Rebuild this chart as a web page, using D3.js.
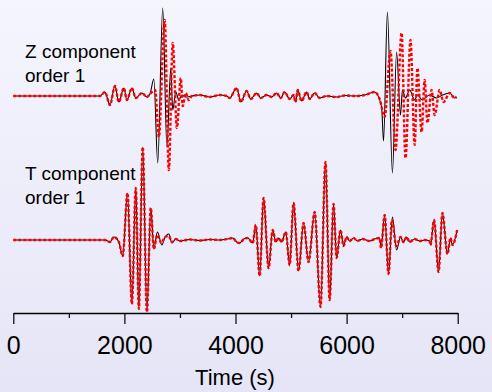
<!DOCTYPE html>
<html>
<head>
<meta charset="utf-8">
<script src="https://cdn.jsdelivr.net/npm/d3@7"></script>
<style>
  body { margin: 0; }
  text { font-family: "Liberation Sans", Arial, Helvetica, sans-serif; }
</style>
</head>
<body>
<script>
// time in seconds, amplitude in arbitrary units
const zCommonA = [[0,0],[1560,0],[1650,0.4],[1740,-0.9],[1830,1.0],[1900,-0.6],[1990,0.8],[2045,-0.4],[2135,0.8],[2205,-0.2],[2315,0.3],[2405,-0.1],[2460,0.2]];
const zBlackB = [[2530,1.7],[2600,-6.7],[2690,8.8],[2765,-5.1],[2835,2.8],[2870,-1.4],[2925,0.4],[2980,-0.4],[3035,0.1],[3105,-0.1],[3215,0]];
const zRedB = [[2555,0.6],[2620,-4.1],[2725,7.6],[2800,-7.4],[2870,5.3],[2945,-3.2],[3015,1.8],[3050,-1.0],[3105,0.3],[3160,-0.4],[3215,0]];
const zCommonC = [[3355,0.1],[3535,-0.1],[3715,0.1],[3840,0],[3895,-0.2],[4020,0.8],[4095,-0.6],[4200,0.5],[4275,-0.3],[4380,0.3],[4455,-0.2],[4560,0.1],[4650,-0.1],[4740,0.3],[4815,-0.2],[4885,0.4],[4975,-0.3],[5045,0.1],[5080,-0.6],[5120,0.6],[5190,-0.5],[5280,0.4],[5335,-0.3],[5425,0.3],[5515,-0.2],[5640,0],[5820,-0.1],[5965,0.05],[6145,0],[6325,0.1],[6505,0.4]];
const zBlackD = [[6630,-1.1],[6665,-4.5],[6735,8.4],[6825,-7.7],[6900,4.4],[6970,-1.9],[7005,0.6],[7060,-0.2],[7135,0.6],[7225,-0.4],[7275,0.1],[7365,-0.4],[7490,0.1],[7620,-0.2],[7725,0.1]];
const zRedD = [[6595,-0.3],[6685,-2.1],[6790,4.5],[6880,-5.4],[6990,6.3],[7060,-6.2],[7150,5.6],[7225,-4.9],[7275,2.8],[7350,-3.6],[7405,1.6],[7455,-2.7],[7530,0.6],[7585,-1.9],[7675,0.6],[7745,-0.6]];
const zCommonE = [[7855,0.3],[7945,-0.2],[7980,-0.1]];

const tCommonA = [[0,0],[1650,0],[1740,-0.2],[1810,0.3],[1900,-0.2],[1970,-1.6],[2055,4.7],[2135,-6.4],[2205,5.2],[2260,-6.9],[2330,9.3],[2405,-7.2],[2475,3.2],[2530,-0.9]];
const tBlackB = [[2595,0.8],[2675,-0.5],[2725,0.2],[2800,0.6],[2855,-0.3]];
const tRedB = [[2590,0.5],[2665,-0.3],[2730,0.3],[2800,0.4],[2855,-0.2]];
const tCommonC = [[2925,0.1],[3000,-0.1],[3175,0.05],[3355,-0.05],[3535,0.05],[3715,0],[3860,0.1],[3950,0.2],[4020,-0.2],[4075,-0.3],[4150,0.1],[4220,0.2],[4310,-0.3],[4365,1.5],[4435,-3.6],[4505,4.2],[4595,-2.8],[4670,1.0],[4725,-0.2],[4775,0.2],[4830,-0.2],[4905,0.8],[4975,-2.5],[5045,3.7],[5135,-3.1],[5225,1.7],[5315,-2.2],[5425,2.8],[5530,-6.7],[5620,7.8],[5695,-6.0],[5765,3.6],[5820,-1.8],[5890,1.0],[5945,-0.6],[6000,0.3],[6055,-0.1],[6125,0.2],[6195,-0.1],[6285,0.1],[6415,-0.1],[6505,0.1],[6595,0.2],[6620,-0.8],[6685,2.5],[6755,-3.4]];
const tBlackD = [[6825,2.3],[6900,-1.0]];
const tRedD = [[6815,2.0],[6895,-0.6]];
const tCommonE = [[6970,0.3],[7025,-0.2],[7080,0.3],[7135,-0.2],[7225,0.1],[7315,-0.1],[7405,0],[7495,-0.1],[7510,-0.5],[7575,2.0],[7655,-3.2],[7725,2.7],[7815,-1.4],[7870,0.2],[7905,-0.5],[7990,1.0]];

const majorTicks = [0, 2000, 4000, 6000, 8000];
const minorTicks = [1000, 3000, 5000, 7000];

const zBlack = zCommonA.concat(zBlackB, zCommonC, zBlackD, zCommonE);
const zRed = zCommonA.concat(zRedB, zCommonC, zRedD, zCommonE);
const tBlack = tCommonA.concat(tBlackB, tCommonC, tBlackD, tCommonE);
const tRed = tCommonA.concat(tRedB, tCommonC, tRedD, tCommonE);

const width = 492;
const height = 392;

const svg = d3.select('body').append('svg')
    .attr('width', width)
    .attr('height', height);

const grad = svg.append('defs').append('linearGradient')
    .attr('id', 'bg')
    .attr('x1', 0).attr('y1', 0).attr('x2', 0).attr('y2', 1);
grad.append('stop').attr('offset', '0%').attr('stop-color', '#f5f5fe');
grad.append('stop').attr('offset', '100%').attr('stop-color', '#e5e5f7');

svg.append('rect')
    .attr('width', width)
    .attr('height', height)
    .attr('fill', 'url(#bg)');

const x = d3.scaleLinear().domain([0, 8000]).range([13.3, 457.7]);
const yZ = d3.scaleLinear().domain([-10, 10]).range([196, -4]);
const yT = d3.scaleLinear().domain([-10, 10]).range([340, 140]);

const lineZ = d3.line()
    .x(d => x(d[0]))
    .y(d => yZ(d[1]))
    .curve(d3.curveMonotoneX);

const lineT = d3.line()
    .x(d => x(d[0]))
    .y(d => yT(d[1]))
    .curve(d3.curveMonotoneX);

const traces = [
  { data: zBlack, line: lineZ, red: false },
  { data: tBlack, line: lineT, red: false },
  { data: zRed, line: lineZ, red: true },
  { data: tRed, line: lineT, red: true }
];

svg.selectAll('.trace')
    .data(traces)
  .enter().append('path')
    .attr('class', 'trace')
    .attr('fill', 'none')
    .attr('d', d => d.line(d.data))
    .attr('stroke', d => d.red ? '#ff0000' : '#000000')
    .attr('stroke-width', d => d.red ? 2.4 : 1.1)
    .attr('stroke-dasharray', d => d.red ? '3,2' : null);

// labels
const labels = [
  { lines: ['Z component', 'order 1'], y: 58 },
  { lines: ['T component', 'order 1'], y: 180 }
];
labels.forEach(l => {
  l.lines.forEach((s, i) => {
    svg.append('text')
        .attr('x', 25)
        .attr('y', l.y + i * 24)
        .attr('font-size', 19)
        .attr('fill', '#000')
        .text(s);
  });
});

// axis
const axisY = 313;
const major = svg.append('g')
    .attr('transform', 'translate(0,' + axisY + ')')
    .call(d3.axisBottom(x).tickValues(majorTicks).tickSize(11).tickSizeOuter(0).tickPadding(12).tickFormat(d3.format('d')));
major.select('.domain').attr('stroke-width', 1.5);
major.selectAll('.tick line').attr('stroke-width', 1.2);
major.selectAll('.tick text')
    .attr('font-size', 25)
    .attr('font-family', '"Liberation Sans", Arial, sans-serif')
    .attr('fill', '#000');

const minor = svg.append('g')
    .attr('transform', 'translate(0,' + axisY + ')')
    .call(d3.axisBottom(x).tickValues(minorTicks).tickSize(5).tickSizeOuter(0).tickFormat(''));
minor.select('.domain').remove();
minor.selectAll('.tick line').attr('stroke-width', 1.2);

svg.append('text')
    .attr('x', 235)
    .attr('y', 385)
    .attr('text-anchor', 'middle')
    .attr('font-size', 22)
    .attr('fill', '#000')
    .text('Time (s)');
</script>
</body>
</html>
